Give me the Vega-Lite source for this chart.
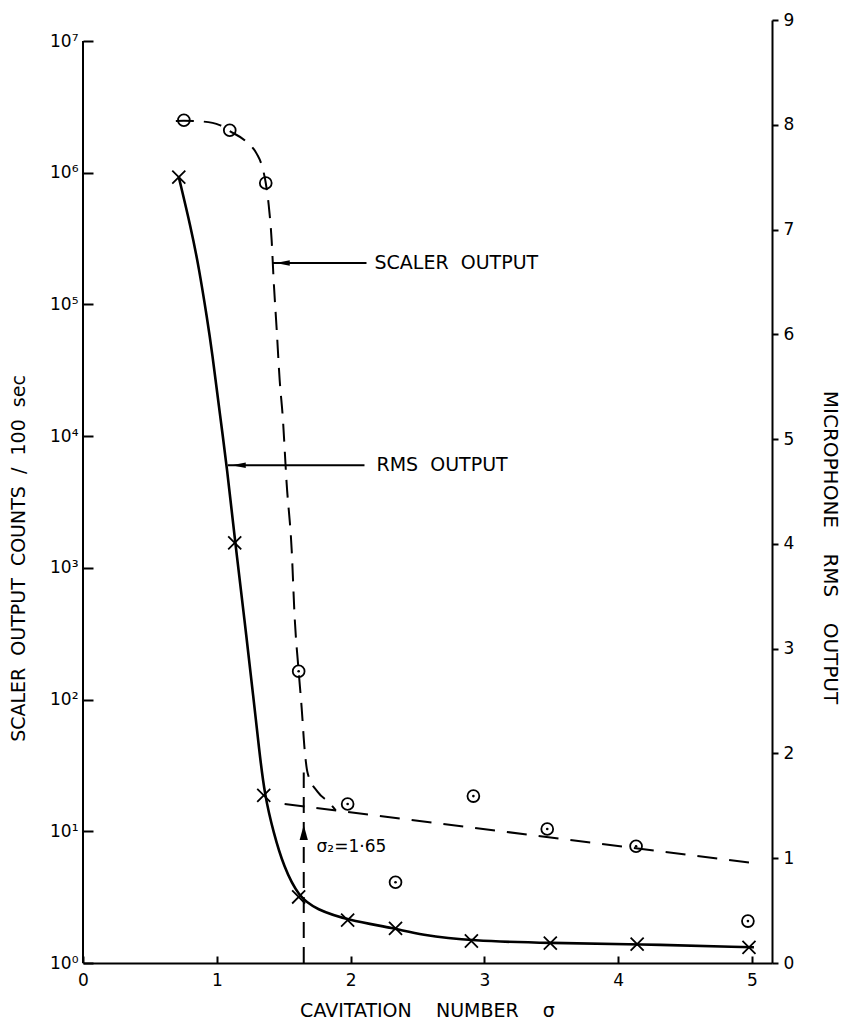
{
  "$schema": "https://vega.github.io/schema/vega-lite/v6.json",
  "width": 689,
  "height": 943,
  "autosize": {"type": "none"},
  "padding": {"left": 83, "top": 20, "right": 73, "bottom": 67},
  "background": "white",
  "config": {
    "view": {"stroke": null},
    "font": "DejaVu Sans",
    "axis": {
      "labelFont": "DejaVu Sans",
      "titleFont": "DejaVu Sans",
      "domainColor": "black",
      "tickColor": "black",
      "labelColor": "black",
      "titleColor": "black",
      "grid": false,
      "domainWidth": 2,
      "tickWidth": 2,
      "labelFlush": false,
      "labelOverlap": false,
      "titleFontWeight": "normal"
    }
  },
  "datasets": {
    "left_axis": [{"x": 0, "y": 1, "y2": 10000000}],
    "scaler_pts": [
      {"x": 0.754, "y": 2500000},
      {"x": 1.097, "y": 2100000},
      {"x": 1.366, "y": 835000},
      {"x": 1.612, "y": 164},
      {"x": 1.978, "y": 16.1},
      {"x": 2.336, "y": 4.1},
      {"x": 2.918, "y": 18.5},
      {"x": 3.47, "y": 10.4},
      {"x": 4.134, "y": 7.7},
      {"x": 4.97, "y": 2.08}
    ],
    "scaler_curve": [
      {"x": 0.694, "y": 2470000},
      {"x": 0.754, "y": 2480000},
      {"x": 0.888, "y": 2450000},
      {"x": 1.022, "y": 2300000},
      {"x": 1.097, "y": 2070000},
      {"x": 1.224, "y": 1710000},
      {"x": 1.299, "y": 1390000},
      {"x": 1.336, "y": 1140000},
      {"x": 1.366, "y": 835000},
      {"x": 1.388, "y": 569000},
      {"x": 1.41, "y": 308000},
      {"x": 1.425, "y": 153000},
      {"x": 1.448, "y": 63900},
      {"x": 1.47, "y": 26700},
      {"x": 1.493, "y": 14000},
      {"x": 1.522, "y": 4400},
      {"x": 1.56, "y": 1360},
      {"x": 1.582, "y": 423},
      {"x": 1.612, "y": 164},
      {"x": 1.634, "y": 87.7},
      {"x": 1.657, "y": 41.4},
      {"x": 1.679, "y": 27.7},
      {"x": 1.754, "y": 19.9},
      {"x": 1.843, "y": 16.4},
      {"x": 1.888, "y": 14.5}
    ],
    "scaler_line": [
      {"x": 1.507, "y": 16.1},
      {"x": 5.015, "y": 5.74}
    ],
    "sigma_line": [{"x": 1.65, "y": 1, "y2": 28}],
    "sigma_arrow": [{"x": 1.65, "y": 9.77}],
    "sigma_text": [{"x": 1.746, "y": 7.6, "label": "σ₂=1·65"}],
    "scaler_ann": [{"x": 1.418, "x2": 2.119, "y": 206200, "xa": 1.493, "xt": 2.179, "label": "SCALER\u00a0 OUTPUT"}],
    "rms_pts": [
      {"x": 0.716, "y": 7.5},
      {"x": 1.134, "y": 4.01},
      {"x": 1.351, "y": 1.6},
      {"x": 1.612, "y": 0.63},
      {"x": 1.978, "y": 0.41},
      {"x": 2.336, "y": 0.33},
      {"x": 2.903, "y": 0.21},
      {"x": 3.493, "y": 0.19},
      {"x": 4.142, "y": 0.18},
      {"x": 4.978, "y": 0.15}
    ],
    "rms_curve": [
      {"x": 0.716, "y": 7.5},
      {"x": 0.806, "y": 7.02},
      {"x": 0.866, "y": 6.64},
      {"x": 0.929, "y": 6.14},
      {"x": 0.963, "y": 5.85},
      {"x": 1.026, "y": 5.21},
      {"x": 1.075, "y": 4.74},
      {"x": 1.138, "y": 4.01},
      {"x": 1.205, "y": 3.3},
      {"x": 1.276, "y": 2.51},
      {"x": 1.317, "y": 2.03},
      {"x": 1.358, "y": 1.6},
      {"x": 1.425, "y": 1.24},
      {"x": 1.5, "y": 0.92},
      {"x": 1.612, "y": 0.63},
      {"x": 1.746, "y": 0.51},
      {"x": 1.978, "y": 0.41},
      {"x": 2.336, "y": 0.33},
      {"x": 2.515, "y": 0.27},
      {"x": 2.903, "y": 0.21},
      {"x": 3.493, "y": 0.19},
      {"x": 4.142, "y": 0.18},
      {"x": 4.978, "y": 0.15},
      {"x": 5.015, "y": 0.15}
    ],
    "rms_ann": [{"x": 1.082, "x2": 2.104, "y": 4.75, "xa": 1.164, "xt": 2.194, "label": "RMS\u00a0 OUTPUT"}]
  },
  "layer": [
    {
      "layer": [
        {
          "data": {"name": "left_axis"},
          "mark": {"type": "rule", "stroke": "black", "strokeWidth": 2},
          "encoding": {
            "x": {
              "field": "x", "type": "quantitative",
              "scale": {"domain": [0, 5.15], "nice": false, "zero": false},
              "axis": {
                "values": [0, 1, 2, 3, 4, 5], "format": "d",
                "tickSize": -7, "labelPadding": 16, "labelFontSize": 17,
                "title": "CAVITATION\u00a0\u00a0\u00a0 NUMBER\u00a0\u00a0\u00a0 σ", "titleFontSize": 19,
                "titleX": 344, "titleY": 47, "titleBaseline": "middle"
              }
            },
            "y": {
              "field": "y", "type": "quantitative",
              "scale": {"type": "log", "domain": [1, 14437000], "nice": false},
              "axis": {
                "orient": "left",
                "values": [1, 10, 100, 1000, 10000, 100000, 1000000, 10000000],
                "labelExpr": "'10' + ['⁰','¹','²','³','⁴','⁵','⁶','⁷'][round(log(datum.value)/LN10)]",
                "domain": false, "tickSize": -10, "labelPadding": 15, "labelFontSize": 17,
                "labelBaseline": "middle",
                "title": "SCALER\u00a0 OUTPUT\u00a0 COUNTS\u00a0 /\u00a0 100\u00a0 sec", "titleFontSize": 19,
                "titleAngle": -90, "titleX": -65, "titleY": 538, "titleBaseline": "middle"
              }
            },
            "y2": {"field": "y2"}
          }
        },
        {
          "data": {"name": "scaler_curve"},
          "mark": {"type": "line", "interpolate": "monotone", "stroke": "black", "strokeWidth": 2, "strokeDash": [18, 10]},
          "encoding": {
            "x": {"field": "x", "type": "quantitative"},
            "y": {"field": "y", "type": "quantitative"}
          }
        },
        {
          "data": {"name": "scaler_line"},
          "mark": {"type": "line", "stroke": "black", "strokeWidth": 2, "strokeDash": [20, 12]},
          "encoding": {
            "x": {"field": "x", "type": "quantitative"},
            "y": {"field": "y", "type": "quantitative"}
          }
        },
        {
          "data": {"name": "sigma_line"},
          "mark": {"type": "rule", "stroke": "black", "strokeWidth": 2, "strokeDash": [16, 9]},
          "encoding": {
            "x": {"field": "x", "type": "quantitative"},
            "y": {"field": "y", "type": "quantitative"},
            "y2": {"field": "y2"}
          }
        },
        {
          "data": {"name": "sigma_arrow"},
          "mark": {"type": "point", "shape": "M0,-1L0.55,1L-0.55,1Z", "filled": true, "fill": "black", "size": 225, "opacity": 1},
          "encoding": {
            "x": {"field": "x", "type": "quantitative"},
            "y": {"field": "y", "type": "quantitative"}
          }
        },
        {
          "data": {"name": "sigma_text"},
          "mark": {"type": "text", "align": "left", "baseline": "middle", "fontSize": 17, "fill": "black"},
          "encoding": {
            "x": {"field": "x", "type": "quantitative"},
            "y": {"field": "y", "type": "quantitative"},
            "text": {"field": "label"}
          }
        },
        {
          "data": {"name": "scaler_ann"},
          "mark": {"type": "rule", "stroke": "black", "strokeWidth": 2},
          "encoding": {
            "x": {"field": "x", "type": "quantitative"},
            "x2": {"field": "x2"},
            "y": {"field": "y", "type": "quantitative"}
          }
        },
        {
          "data": {"name": "scaler_ann"},
          "mark": {"type": "point", "shape": "M-1,0L1,-0.4L1,0.4Z", "filled": true, "fill": "black", "size": 196, "opacity": 1},
          "encoding": {
            "x": {"field": "xa", "type": "quantitative"},
            "y": {"field": "y", "type": "quantitative"}
          }
        },
        {
          "data": {"name": "scaler_ann"},
          "mark": {"type": "text", "align": "left", "baseline": "middle", "fontSize": 19, "fill": "black"},
          "encoding": {
            "x": {"field": "xt", "type": "quantitative"},
            "y": {"field": "y", "type": "quantitative"},
            "text": {"field": "label"}
          }
        },
        {
          "data": {"name": "scaler_pts"},
          "mark": {"type": "point", "shape": "circle", "filled": false, "stroke": "black", "strokeWidth": 1.8, "size": 140, "opacity": 1},
          "encoding": {
            "x": {"field": "x", "type": "quantitative"},
            "y": {"field": "y", "type": "quantitative"}
          }
        },
        {
          "data": {"name": "scaler_pts"},
          "transform": [{"filter": "datum.x > 1.5"}],
          "mark": {"type": "point", "shape": "circle", "filled": true, "fill": "black", "size": 7, "opacity": 1},
          "encoding": {
            "x": {"field": "x", "type": "quantitative"},
            "y": {"field": "y", "type": "quantitative"}
          }
        }
      ]
    },
    {
      "layer": [
        {
          "data": {"name": "rms_curve"},
          "mark": {"type": "line", "interpolate": "basis", "stroke": "black", "strokeWidth": 2.6},
          "encoding": {
            "x": {"field": "x", "type": "quantitative"},
            "y": {
              "field": "y", "type": "quantitative",
              "scale": {"domain": [0, 9], "nice": false, "zero": true},
              "axis": {
                "orient": "right",
                "values": [0, 1, 2, 3, 4, 5, 6, 7, 8, 9], "format": "d",
                "tickSize": 6, "labelPadding": 5, "labelFontSize": 17,
                "title": "MICROPHONE\u00a0\u00a0\u00a0 RMS\u00a0\u00a0\u00a0 OUTPUT", "titleFontSize": 20,
                "titleAngle": 90, "titleX": 57, "titleY": 527, "titleBaseline": "middle"
              }
            }
          }
        },
        {
          "data": {"name": "rms_pts"},
          "mark": {"type": "point", "shape": "M-1,-1L1,1M-1,1L1,-1", "filled": false, "stroke": "black", "strokeWidth": 1.8, "size": 170, "opacity": 1},
          "encoding": {
            "x": {"field": "x", "type": "quantitative"},
            "y": {"field": "y", "type": "quantitative"}
          }
        },
        {
          "data": {"name": "rms_ann"},
          "mark": {"type": "rule", "stroke": "black", "strokeWidth": 2},
          "encoding": {
            "x": {"field": "x", "type": "quantitative"},
            "x2": {"field": "x2"},
            "y": {"field": "y", "type": "quantitative"}
          }
        },
        {
          "data": {"name": "rms_ann"},
          "mark": {"type": "point", "shape": "M-1,0L1,-0.4L1,0.4Z", "filled": true, "fill": "black", "size": 196, "opacity": 1},
          "encoding": {
            "x": {"field": "xa", "type": "quantitative"},
            "y": {"field": "y", "type": "quantitative"}
          }
        },
        {
          "data": {"name": "rms_ann"},
          "mark": {"type": "text", "align": "left", "baseline": "middle", "fontSize": 19, "fill": "black"},
          "encoding": {
            "x": {"field": "xt", "type": "quantitative"},
            "y": {"field": "y", "type": "quantitative"},
            "text": {"field": "label"}
          }
        }
      ]
    }
  ],
  "resolve": {"scale": {"y": "independent"}}
}
